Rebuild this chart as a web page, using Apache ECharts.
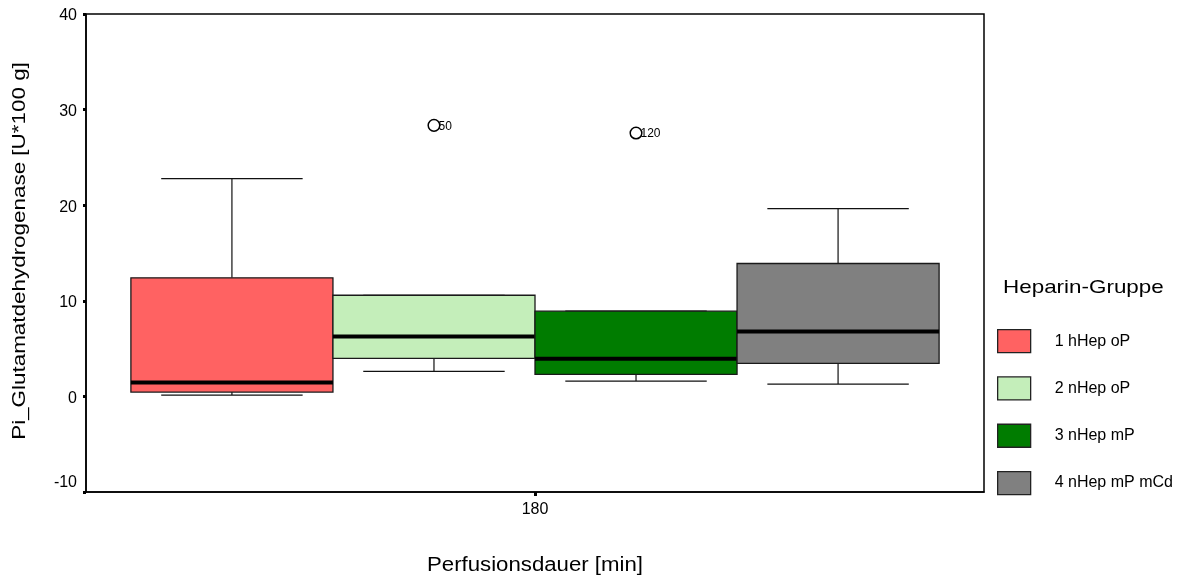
<!DOCTYPE html>
<html>
<head>
<meta charset="utf-8">
<script src="https://cdn.jsdelivr.net/npm/echarts@6/dist/echarts.min.js"></script>
<style>
  html, body { margin: 0; padding: 0; background: #fff; }
  #chart { width: 1184px; height: 578px; }
</style>
</head>
<body>
<div id="chart"></div>
<script>
// Perfusion time category and heparin groups
const timeCategories = ['180'];
const groups = ['1 hHep oP', '2 nHep oP', '3 nHep mP', '4 nHep mP mCd'];
const groupColors = ['#ff6262', '#c4eeba', '#007c00', '#808080'];

// Box statistics per group (U*100 g)
const whiskerLow  = [0.14, 2.61, 1.60, 1.29];
const quartile1   = [0.45, 3.97, 2.30, 3.45];
const medians     = [1.46, 6.27, 3.94, 6.79];
const quartile3   = [12.40, 10.58, 8.91, 13.90];
const whiskerHigh = [22.78, 10.58, 8.91, 19.64];

// Outliers: group index, value, case label
const outlierGroup = [1, 2];
const outlierValue = [28.35, 27.55];
const outlierLabel = ['50', '120'];

// Y axis ticks
const yMin = -10, yMax = 40, yStep = 10;

// Titles
const xTitle = 'Perfusionsdauer [min]';
const yTitle = 'Pi_Glutamatdehydrogenase [U*100 g]';
const legendTitle = 'Heparin-Gruppe';

const FONT = 'Liberation Sans, Arial, Helvetica, sans-serif';

// Horizontal layout of the four boxes inside the plot (fractions of plot width)
const GROUP_START = 0.05, BOX_W = 0.225, CAP_FRAC = 0.7;

function boxRenderer(color) {
  return function (params, api) {
    const g = api.value(0);
    const left = GROUP_START + BOX_W * g;
    const right = left + BOX_W;
    const mid = left + BOX_W / 2;
    const capL = mid - BOX_W * CAP_FRAC / 2;
    const capR = mid + BOX_W * CAP_FRAC / 2;
    const low = api.value(1), q1 = api.value(2), med = api.value(3), q3 = api.value(4), high = api.value(5);
    const pLow = api.coord([mid, low]);
    const pHigh = api.coord([mid, high]);
    const pQ1 = api.coord([left, q1]);
    const pQ3 = api.coord([right, q3]);
    const pMedL = api.coord([left, med]);
    const pMedR = api.coord([right, med]);
    const cL = api.coord([capL, low]);
    const cR = api.coord([capR, low]);
    const hL = api.coord([capL, high]);
    const hR = api.coord([capR, high]);
    const thin = { stroke: '#111', lineWidth: 1.2 };
    return {
      type: 'group',
      children: [
        { type: 'line', shape: { x1: pLow[0], y1: pLow[1], x2: pLow[0], y2: pQ1[1] }, style: thin },
        { type: 'line', shape: { x1: pHigh[0], y1: pHigh[1], x2: pHigh[0], y2: pQ3[1] }, style: thin },
        { type: 'line', shape: { x1: cL[0], y1: cL[1], x2: cR[0], y2: cR[1] }, style: thin },
        { type: 'line', shape: { x1: hL[0], y1: hL[1], x2: hR[0], y2: hR[1] }, style: thin },
        {
          type: 'rect',
          shape: { x: pQ1[0], y: pQ3[1], width: pQ3[0] - pQ1[0], height: pQ1[1] - pQ3[1] },
          style: { fill: color, stroke: '#1a1a1a', lineWidth: 1.3 }
        },
        { type: 'line', shape: { x1: pMedL[0], y1: pMedL[1], x2: pMedR[0], y2: pMedR[1] }, style: { stroke: '#000', lineWidth: 4 } }
      ]
    };
  };
}

function outlierRenderer(params, api) {
  const g = api.value(0);
  const mid = GROUP_START + BOX_W * g + BOX_W / 2;
  const p = api.coord([mid, api.value(1)]);
  const label = outlierLabel[params.dataIndex];
  return {
    type: 'group',
    children: [
      { type: 'circle', shape: { cx: p[0], cy: p[1], r: 5.8 }, style: { fill: '#fff', stroke: '#000', lineWidth: 1.5 } },
      {
        type: 'text',
        x: p[0] + 4.5, y: p[1] + 1,
        style: { text: label, fill: '#000', font: '12px ' + FONT, verticalAlign: 'middle', align: 'left' }
      }
    ]
  };
}

const boxSeries = groups.map(function (name, i) {
  return {
    name: name,
    type: 'custom',
    xAxisIndex: 1,
    yAxisIndex: 0,
    itemStyle: { color: groupColors[i] },
    renderItem: boxRenderer(groupColors[i]),
    encode: { x: 0, y: [1, 2, 3, 4, 5] },
    data: [[i, whiskerLow[i], quartile1[i], medians[i], quartile3[i], whiskerHigh[i]]],
    z: 2 + i
  };
});

const outlierSeries = {
  name: 'outliers',
  type: 'custom',
  xAxisIndex: 1,
  yAxisIndex: 0,
  renderItem: outlierRenderer,
  encode: { x: 0, y: 1 },
  data: outlierGroup.map(function (g, k) { return [g, outlierValue[k]]; }),
  z: 10
};

const chart = echarts.init(document.getElementById('chart'), null, { renderer: 'canvas' });

chart.setOption({
  animation: false,
  backgroundColor: '#fff',
  textStyle: { fontFamily: FONT },
  grid: {
    left: 86, right: 200, top: 14, bottom: 86,
    outerBoundsMode: 'none',
    show: true, borderColor: '#000', borderWidth: 1.5, backgroundColor: 'transparent'
  },
  xAxis: [
    {
      type: 'category',
      data: timeCategories,
      axisLine: { show: true, onZero: false, lineStyle: { color: '#000', width: 1.5 } },
      axisTick: { show: true, alignWithLabel: true, length: 4, lineStyle: { color: '#000', width: 3 } },
      axisLabel: { fontSize: 16, color: '#000', margin: 10, fontFamily: FONT },
      splitLine: { show: false }
    },
    {
      type: 'value',
      min: 0, max: 1,
      show: false,
      splitLine: { show: false }
    }
  ],
  yAxis: {
    type: 'value',
    min: yMin, max: yMax, interval: yStep,
    axisLine: { show: true, lineStyle: { color: '#000', width: 1.5 } },
    axisTick: { show: true, length: 3, lineStyle: { color: '#000', width: 3 } },
    axisLabel: {
      fontSize: 16, color: '#000', margin: 9, fontFamily: FONT,
      formatter: function (v) { return v === yMin ? '{lo|' + v + '}' : '{n|' + v + '}'; },
      rich: {
        lo: { fontSize: 16, fontFamily: FONT, color: '#000', padding: [0, 0, 18, 0] },
        n: { fontSize: 16, fontFamily: FONT, color: '#000', padding: [4, 0, 0, 0] }
      }
    },
    splitLine: { show: false }
  },
  legend: {
    orient: 'vertical',
    left: 997,
    top: 329,
    padding: 0,
    itemWidth: 33,
    itemHeight: 23,
    itemGap: 23,
    icon: 'rect',
    selectedMode: false,
    textStyle: { fontSize: 16, color: '#000', fontFamily: FONT, padding: [0, 0, 0, 19] },
    data: groups.map(function (name, i) {
      return { name: name, itemStyle: { color: groupColors[i], borderColor: '#222', borderWidth: 1.3 } };
    })
  },
  graphic: [
    {
      type: 'text',
      x: 535, y: 565,
      scaleX: 1.11,
      style: { text: xTitle, fill: '#000', font: '20px ' + FONT, align: 'center', verticalAlign: 'middle' }
    },
    {
      type: 'text',
      x: 20, y: 251,
      rotation: Math.PI / 2,
      scaleX: 1.18,
      style: { text: yTitle, fill: '#000', font: '19px ' + FONT, align: 'center', verticalAlign: 'middle' }
    },
    {
      type: 'text',
      x: 1003, y: 288,
      scaleX: 1.18,
      style: { text: legendTitle, fill: '#000', font: '19px ' + FONT, align: 'left', verticalAlign: 'middle' }
    }
  ],
  series: boxSeries.concat([outlierSeries])
});
</script>
</body>
</html>
